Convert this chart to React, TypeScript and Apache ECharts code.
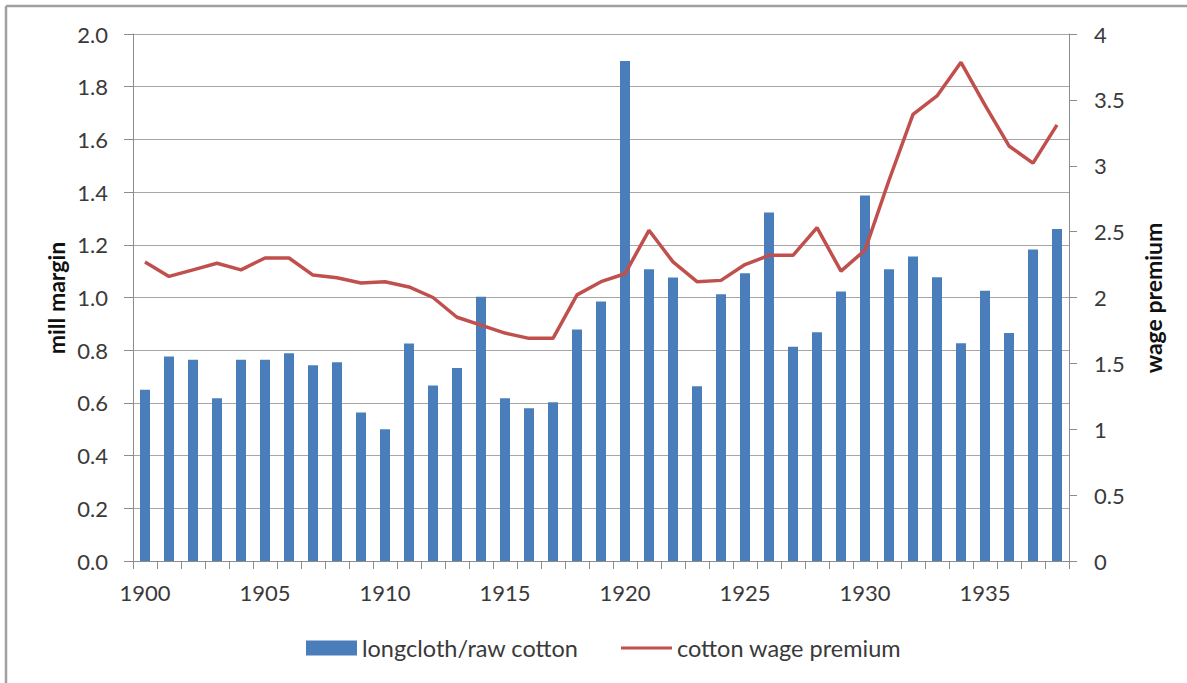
import React, { useEffect, useRef } from "react";
import * as echarts from "echarts";

const years = [
  "1900", "1901", "1902", "1903", "1904", "1905", "1906", "1907", "1908", "1909",
  "1910", "1911", "1912", "1913", "1914", "1915", "1916", "1917", "1918", "1919",
  "1920", "1921", "1922", "1923", "1924", "1925", "1926", "1927", "1928", "1929",
  "1930", "1931", "1932", "1933", "1934", "1935", "1936", "1937", "1938",
];

const millMargin = [
  0.65, 0.776, 0.764, 0.618, 0.764, 0.764, 0.788, 0.743, 0.754, 0.564,
  0.5, 0.825, 0.666, 0.732, 1.003, 0.618, 0.58, 0.602, 0.879, 0.985,
  1.898, 1.107, 1.076, 0.663, 1.012, 1.092, 1.323, 0.813, 0.868, 1.023,
  1.387, 1.107, 1.156, 1.077, 0.826, 1.026, 0.865, 1.182, 1.26,
];

const wagePremium = [
  2.27, 2.16, 2.21, 2.26, 2.21, 2.3, 2.3, 2.17, 2.15, 2.11,
  2.12, 2.08, 2.0, 1.85, 1.79, 1.73, 1.69, 1.69, 2.02, 2.12,
  2.18, 2.51, 2.27, 2.12, 2.13, 2.25, 2.32, 2.32, 2.53, 2.2,
  2.36, 2.89, 3.39, 3.53, 3.785, 3.46, 3.15, 3.02, 3.31,
];

const barName = "longcloth/raw cotton";
const lineName = "cotton wage premium";
const leftTitle = "mill margin";
const rightTitle = "wage premium";

const FONT = "Lato, 'Open Sans', 'Liberation Sans', sans-serif";
const BLUE = "#4a7ebb";
const RED = "#c0504d";
const GRID = "#a6a6a6";
const AXIS = "#8c8c8c";
const TXT = "#3a3a3a";

export default function App() {
  const ref = useRef<HTMLDivElement>(null);

  useEffect(() => {
    if (!ref.current) return;
    const chart = echarts.init(ref.current, undefined, { renderer: "svg" });
    chart.setOption({
      animation: false,
      backgroundColor: "#ffffff",
      grid: { left: 133, right: 118, top: 34, bottom: 122, containLabel: false },
      legend: [
        {
          data: [{ name: barName, icon: "rect" }],
          left: 306,
          top: 636,
          padding: 0,
          itemWidth: 51,
          itemHeight: 15,
          textStyle: { fontFamily: FONT, fontSize: 23.5, color: TXT },
        },
        {
          data: [{ name: lineName, icon: "rect" }],
          left: 621,
          top: 636,
          padding: 0,
          itemWidth: 51,
          itemHeight: 3,
          textStyle: { fontFamily: FONT, fontSize: 23.5, color: TXT },
        },
      ],
      xAxis: {
        type: "category",
        data: years,
        boundaryGap: true,
        axisLine: { show: true, lineStyle: { color: AXIS, width: 1 } },
        axisTick: { show: true, interval: 0, length: 8, lineStyle: { color: AXIS } },
        axisLabel: {
          interval: 4,
          margin: 20,
          fontFamily: FONT,
          fontSize: 22,
          color: TXT,
        },
        splitLine: { show: false },
      },
      yAxis: [
        {
          type: "value",
          min: 0,
          max: 2,
          interval: 0.2,
          position: "left",
          axisLine: { show: true, lineStyle: { color: AXIS, width: 1 } },
          axisTick: { show: true, length: 9, lineStyle: { color: AXIS } },
          axisLabel: {
            margin: 25,
            fontFamily: FONT,
            fontSize: 22,
            color: TXT,
            formatter: (v: number) => v.toFixed(1),
          },
          splitLine: { show: true, lineStyle: { color: GRID, width: 1 } },
        },
        {
          type: "value",
          min: 0,
          max: 4,
          interval: 0.5,
          position: "right",
          axisLine: { show: true, lineStyle: { color: AXIS, width: 1 } },
          axisTick: { show: true, length: 8, lineStyle: { color: AXIS } },
          axisLabel: {
            margin: 25,
            fontFamily: FONT,
            fontSize: 22,
            color: TXT,
          },
          splitLine: { show: false },
        },
      ],
      series: [
        {
          name: barName,
          type: "bar",
          yAxisIndex: 0,
          data: millMargin,
          barWidth: 10,
          itemStyle: { color: BLUE },
        },
        {
          name: lineName,
          type: "line",
          yAxisIndex: 1,
          data: wagePremium,
          symbol: "none",
          showSymbol: false,
          lineStyle: { color: RED, width: 3.5 },
          itemStyle: { color: RED },
        },
      ],
      graphic: [
        {
          type: "line",
          shape: { x1: 6, y1: 6, x2: 1187, y2: 6 },
          style: { stroke: "#a0a0a0", lineWidth: 2.5 },
          silent: true,
        },
        {
          type: "line",
          shape: { x1: 6, y1: 6, x2: 6, y2: 683 },
          style: { stroke: "#a0a0a0", lineWidth: 2.5 },
          silent: true,
        },
        {
          type: "text",
          x: 56,
          y: 298,
          rotation: Math.PI / 2,
          style: {
            text: leftTitle,
            fontFamily: FONT,
            fontSize: 23,
            fontWeight: "bold",
            fill: "#111111",
            align: "center",
            verticalAlign: "middle",
          },
        },
        {
          type: "text",
          x: 1153,
          y: 298,
          rotation: Math.PI / 2,
          style: {
            text: rightTitle,
            fontFamily: FONT,
            fontSize: 23,
            fontWeight: "bold",
            fill: "#111111",
            align: "center",
            verticalAlign: "middle",
          },
        },
      ],
    });
    return () => chart.dispose();
  }, []);

  return (
    <div
      ref={ref}
      style={{ position: "fixed", left: 0, top: 0, width: 1187, height: 683 }}
    />
  );
}
